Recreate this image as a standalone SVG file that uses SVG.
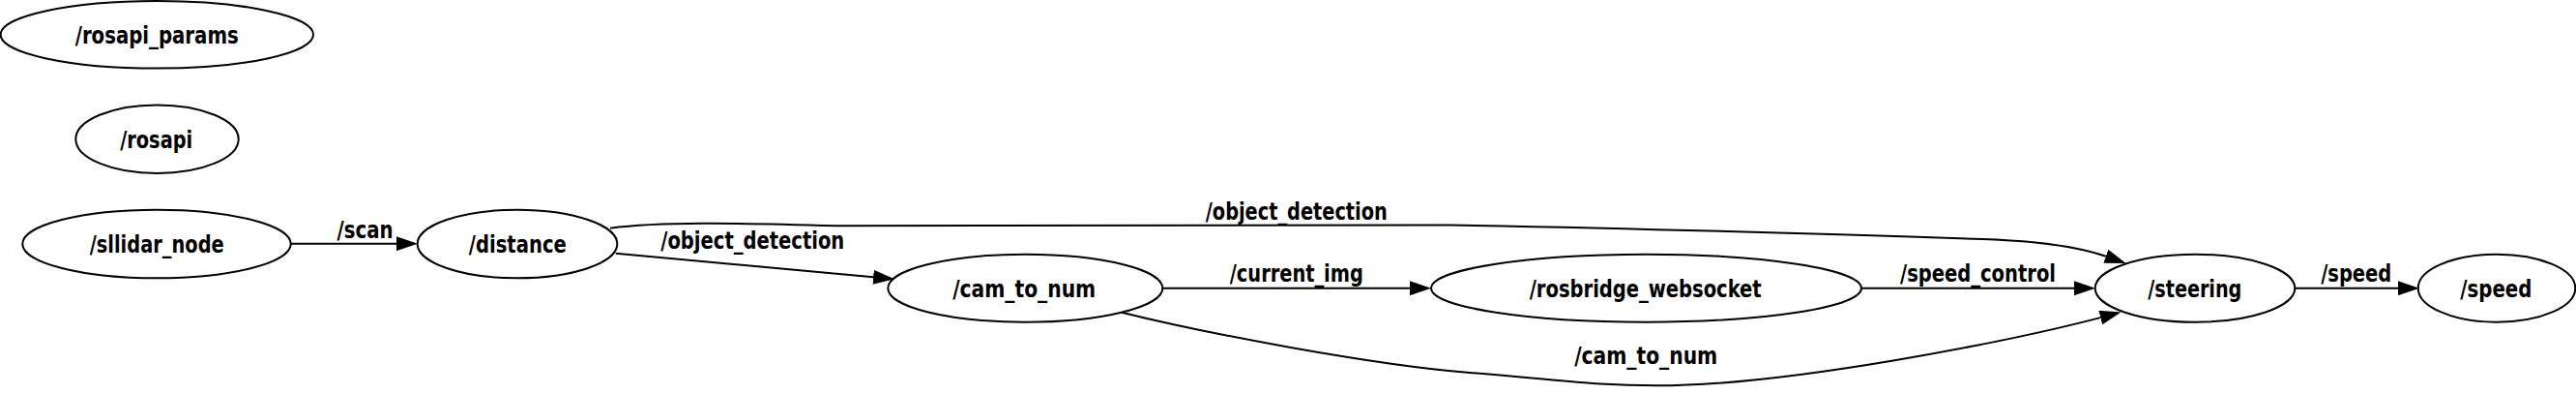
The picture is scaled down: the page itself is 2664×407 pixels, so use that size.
<svg xmlns="http://www.w3.org/2000/svg" width="2664" height="407" viewBox="0 0 2664 407">
<style>
.node ellipse{fill:none;stroke:#000;stroke-width:2}
text{font-family:"DejaVu Sans Condensed","DejaVu Sans",sans-serif;font-stretch:condensed;font-weight:bold;font-size:24.5px;fill:#000;text-anchor:middle}
.edge{fill:none;stroke:#000;stroke-width:2;marker-end:url(#arr)}
</style>
<defs>
<marker id="arr" markerUnits="userSpaceOnUse" viewBox="0 0 22 15" refX="0" refY="7.5" markerWidth="22" markerHeight="15" orient="auto">
<path d="M0,0 L22,7.5 L0,15 z" fill="#000"/>
</marker>
</defs>
<rect width="2664" height="407" fill="#fff"/>
<g id="connectors">
<path class="edge" d="M300.7,251.7 L410,251.7"/>
<path class="edge" d="M636.7,261.7 L903.1,286.3"/>
<path class="edge" d="M631,235.7 C680,229 760,230 866,233.3 L1500,232.5 C1700,236 1900,242 2050,247 C2110,249 2150,255 2177.8,264.8"/>
<path class="edge" d="M1202.3,297.7 L1458,297.7"/>
<path class="edge" d="M1160,322.7 C1250,345 1420,377 1520,385 C1620,393 1650,398.3 1713,398.3 C1850,398.3 2080,352 2172.2,328.1"/>
<path class="edge" d="M1925,297.7 L2145,297.7"/>
<path class="edge" d="M2373.3,297.7 L2480,297.7"/>
<text x="377.5" y="245.5" textLength="58" lengthAdjust="spacingAndGlyphs">/scan</text>
<text x="778.3" y="257" textLength="190" lengthAdjust="spacingAndGlyphs">/object_detection</text>
<text x="1340.8" y="226.5" textLength="188" lengthAdjust="spacingAndGlyphs">/object_detection</text>
<text x="1340.8" y="291" textLength="138" lengthAdjust="spacingAndGlyphs">/current_img</text>
<text x="2045.5" y="290.5" textLength="161" lengthAdjust="spacingAndGlyphs">/speed_control</text>
<text x="1702.2" y="375.5" textLength="148" lengthAdjust="spacingAndGlyphs">/cam_to_num</text>
<text x="2436.7" y="290.5" textLength="73" lengthAdjust="spacingAndGlyphs">/speed</text>
</g>
<g id="rosapi_params" class="node"><ellipse cx="162.3" cy="35.8" rx="161.7" ry="34.8"/><text x="162.2" y="44.8" textLength="169" lengthAdjust="spacingAndGlyphs">/rosapi_params</text></g>
<g id="rosapi" class="node"><ellipse cx="162.5" cy="143.7" rx="84.2" ry="35.3"/><text x="161.7" y="152.7" textLength="75" lengthAdjust="spacingAndGlyphs">/rosapi</text></g>
<g id="sllidar_node" class="node"><ellipse cx="162" cy="252" rx="138.7" ry="35.3"/><text x="162.2" y="261" textLength="139" lengthAdjust="spacingAndGlyphs">/sllidar_node</text></g>
<g id="distance" class="node"><ellipse cx="535" cy="252" rx="103.3" ry="35.3"/><text x="535.3" y="261" textLength="101" lengthAdjust="spacingAndGlyphs">/distance</text></g>
<g id="cam_to_num" class="node"><ellipse cx="1060.3" cy="297.7" rx="142" ry="35"/><text x="1059.2" y="306.7" textLength="148" lengthAdjust="spacingAndGlyphs">/cam_to_num</text></g>
<g id="rosbridge_websocket" class="node"><ellipse cx="1702.5" cy="297.7" rx="222.5" ry="35"/><text x="1701.7" y="306.7" textLength="240" lengthAdjust="spacingAndGlyphs">/rosbridge_websocket</text></g>
<g id="steering" class="node"><ellipse cx="2270" cy="297.7" rx="103.3" ry="35"/><text x="2269.8" y="306.7" textLength="97" lengthAdjust="spacingAndGlyphs">/steering</text></g>
<g id="speed" class="node"><ellipse cx="2582" cy="297.7" rx="81.3" ry="35"/><text x="2581.3" y="306.7" textLength="74" lengthAdjust="spacingAndGlyphs">/speed</text></g>
</svg>
